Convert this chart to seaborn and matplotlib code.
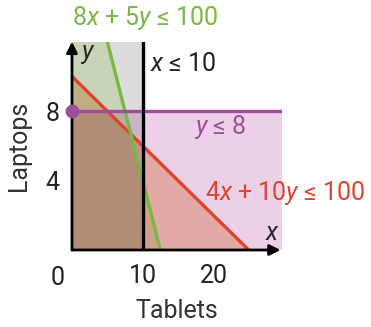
import numpy as np
import seaborn as sns
import matplotlib.pyplot as plt

# constraints a*x + b*y <= c
red_abc = [4, 10, 100]
green_abc = [8, 5, 100]
x_max = 10
y_max = 8

x_ticks = [10, 20]
y_ticks = [4, 8]

# fill colours (multiplied where they overlap)
pink = [236, 208, 232]
gray = [220, 220, 220]
green_fill = [232, 246, 213]
red_fill = [246, 208, 181]

x_lim = 29.7
y_lim = 12

sns.set_theme(style="white")
plt.rcParams['font.family'] = ['Roboto', 'DejaVu Sans']
plt.rcParams['mathtext.fontset'] = 'custom'
plt.rcParams['mathtext.rm'] = 'Roboto'
plt.rcParams['mathtext.it'] = 'Roboto:italic'

fig = plt.figure(figsize=(3.71, 3.27), dpi=100)
ax = fig.add_axes([0.194, 0.2355, 0.566, 0.637])

# shaded regions via multiply blending on a fine grid
xs = np.linspace(0, x_lim, 1400)
ys = np.linspace(0, y_lim, 700)
X, Y = np.meshgrid(xs, ys)
img = np.ones(X.shape + (3,))
for mask, col in [
    (Y <= y_max, pink),
    (X <= x_max, gray),
    (green_abc[0] * X + green_abc[1] * Y <= green_abc[2], green_fill),
    (red_abc[0] * X + red_abc[1] * Y <= red_abc[2], red_fill),
]:
    img[mask] *= np.array(col) / 255
ax.imshow(img, origin='lower', extent=[0, x_lim, 0, y_lim], aspect='auto',
          interpolation='nearest', zorder=0)

red_c = '#de4430'
green_c = '#78b843'
purple_c = '#9c4f98'

# boundary lines
rx = [0, red_abc[2] / red_abc[0]]
ry = [(red_abc[2] - red_abc[0] * v) / red_abc[1] for v in rx]
sns.lineplot(x=rx, y=ry, color=red_c, lw=2.4, ax=ax, zorder=3)

gy = [y_lim, 0]
gx = [(green_abc[2] - green_abc[1] * v) / green_abc[0] for v in gy]
sns.lineplot(x=gx, y=gy, color=green_c, lw=2.4, ax=ax, zorder=3, orient='y')

sns.lineplot(x=[0, x_lim], y=[y_max, y_max], color=purple_c, lw=2.4, ax=ax, zorder=3)
ax.plot([x_max, x_max], [0, y_lim], color='black', lw=2.4, zorder=4)
ax.plot([0], [y_max], 'o', color=purple_c, ms=9, zorder=6, clip_on=False)

# axes with arrows
ax.annotate('', xy=(0, y_lim), xytext=(0, 0),
            arrowprops=dict(arrowstyle='-|>', color='black', lw=2, mutation_scale=16,
                            shrinkA=0, shrinkB=0), annotation_clip=False, zorder=5)
ax.annotate('', xy=(x_lim - 0.2, 0), xytext=(0, 0),
            arrowprops=dict(arrowstyle='-|>', color='black', lw=2, mutation_scale=16,
                            shrinkA=0, shrinkB=0), annotation_clip=False, zorder=5)

ax.set_xlim(0, x_lim)
ax.set_ylim(0, y_lim)
for s in ax.spines.values():
    s.set_visible(False)

fs = 18
ax.set_xticks(x_ticks)
ax.set_yticks(y_ticks)
ax.tick_params(length=0, labelsize=fs, colors='#222222', pad=9)
ax.tick_params(axis='x', pad=10)
ax.text(-2, -0.9, '0', ha='center', va='top', fontsize=fs, color='#222222')

ax.set_xlabel('Tablets', fontsize=fs, color='#333333', labelpad=8)
ax.set_ylabel('Laptops', fontsize=fs, color='#333333', labelpad=10)

ax.text(28.4, 1.0, '$x$', fontsize=fs, ha='center', va='center')
ax.text(2.2, 11.3, '$y$', fontsize=fs, ha='center', va='center')

ax.text(10.3, 13.35, '8$x$ + 5$y$ ≤ 100', fontsize=fs, color=green_c, ha='center',
        va='center', clip_on=False)
ax.text(11.0, 10.7, '$x$ ≤ 10', fontsize=fs, color='#222222', ha='left', va='center')
ax.text(17.2, 7.1, '$y$ ≤ 8', fontsize=fs, color=purple_c, ha='left', va='center')
ax.text(18.8, 3.3, '4$x$ + 10$y$ ≤ 100', fontsize=fs, color=red_c, ha='left',
        va='center', clip_on=False)

fig.savefig('out.png', dpi=100)
